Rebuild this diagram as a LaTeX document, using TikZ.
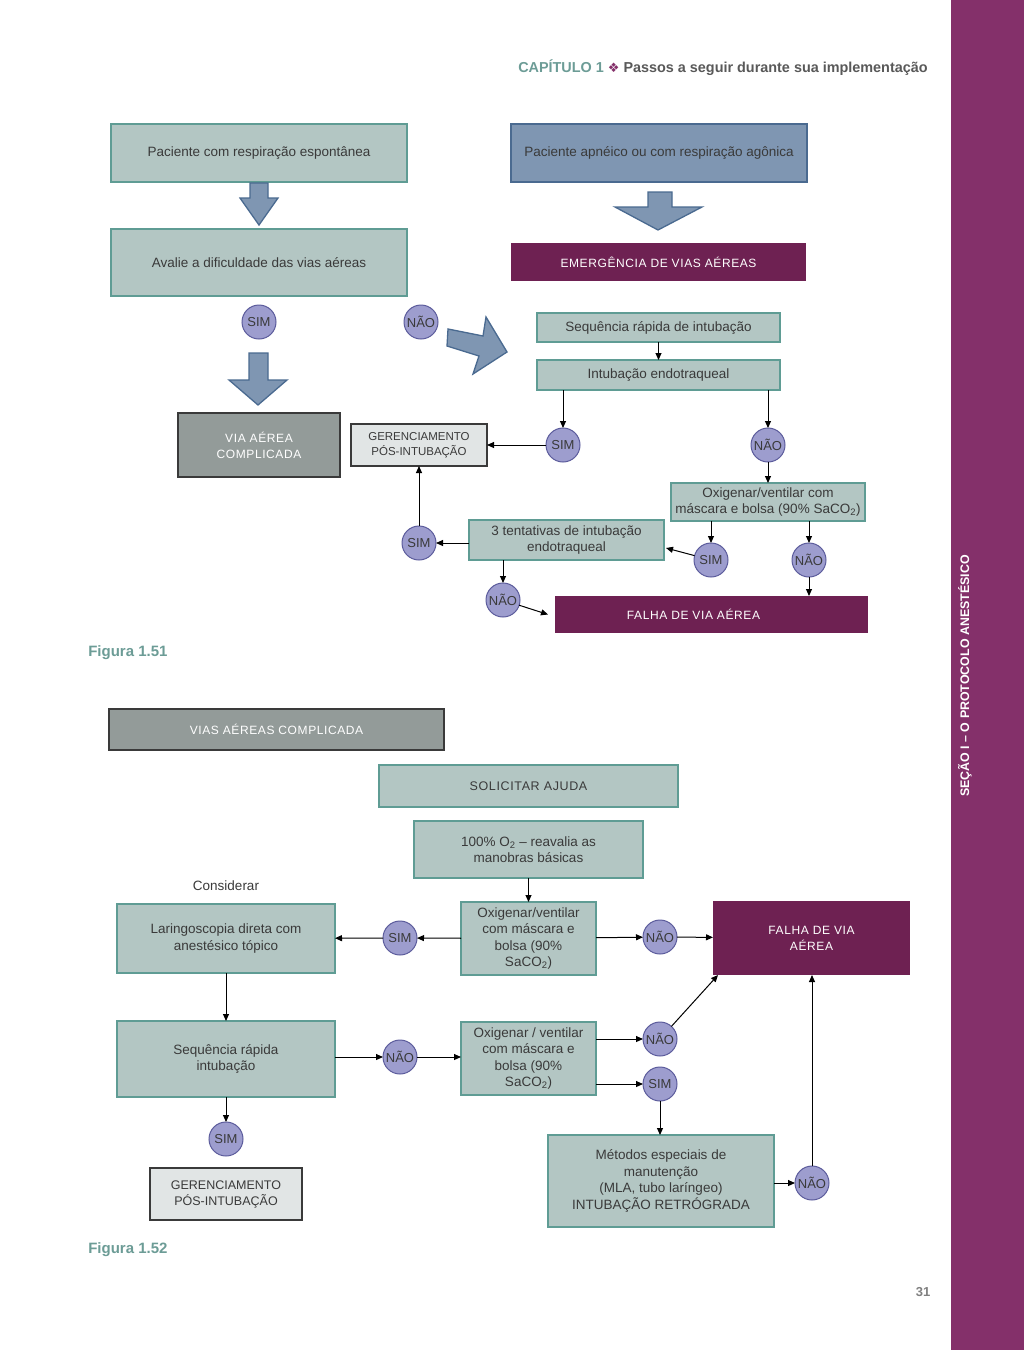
\documentclass[tikz,border=0pt]{standalone}
\usepackage{fontspec}
\setmainfont{Liberation Sans}
\newfontfamily\symfont{DejaVu Sans}
\newfontfamily\capsfont[LetterSpace=5]{Liberation Sans}
\usetikzlibrary{arrows.meta,positioning}

\definecolor{tealfill}{HTML}{B3C6C3}
\definecolor{tealline}{HTML}{5F9C94}
\definecolor{bluefill}{HTML}{7F96B2}
\definecolor{blueline}{HTML}{4A6A90}
\definecolor{plum}{HTML}{6E2152}
\definecolor{lilac}{HTML}{9D9DCE}
\definecolor{lilacline}{HTML}{5C5C9C}
\definecolor{slate}{HTML}{939B99}
\definecolor{pale}{HTML}{E1E5E5}
\definecolor{sidebar}{HTML}{84306A}
\definecolor{capteal}{HTML}{6C9C96}
\definecolor{inkgray}{HTML}{3A3A3A}

\begin{document}
\begin{tikzpicture}[x=1pt,y=-1pt,>={Triangle[length=7pt,width=6pt]},semithick]
	\tikzstyle{every node}=[font=\fontsize{13.5}{16.5}\selectfont,text=inkgray,outer sep=0pt,align=center]
	\tikzstyle{tbox}=[draw=tealline,fill=tealfill,line width=1.3pt,inner sep=2pt]
	\tikzstyle{bbox}=[draw=blueline,fill=bluefill,line width=1.3pt,inner sep=2pt]
	\tikzstyle{pbox}=[fill=plum,text=white,font=\capsfont\fontsize{12}{16}\selectfont]
	\tikzstyle{gbox}=[draw=inkgray,fill=slate,line width=1.3pt,text=white,font=\capsfont\fontsize{12}{16}\selectfont]
	\tikzstyle{lbox}=[draw=inkgray,fill=pale,line width=1.5pt,font=\fontsize{11.5}{14.5}\selectfont]
	\tikzstyle{answer}=[circle,draw=lilacline,fill=lilac,line width=1pt,minimum size=34pt,inner sep=0pt,font=\fontsize{13}{15}\selectfont]
	\tikzstyle{blockarrow}=[draw=blueline,fill=bluefill,line width=1.3pt,line join=miter]
	\tikzstyle{link}=[->,line width=1pt,draw=black]

	\path[use as bounding box,fill=white] (0,0) rectangle (1024,1350);
	\fill[sidebar] (951,0) rectangle (1024,1350);
	\node[rotate=90,text=white,font=\bfseries\fontsize{12.4}{15}\selectfont] (secao) at (965,676) {SEÇÃO I – O PROTOCOLO ANESTÉSICO};
	\node[anchor=east,font=\bfseries\fontsize{14.4}{17}\selectfont,text=gray!70!black] (cap) at (931,68)
		{\textcolor{capteal}{CAPÍTULO 1} \textcolor{sidebar}{\symfont\fontsize{13}{15}\selectfont ❖} Passos a seguir durante sua implementação};
	\node[font=\bfseries\fontsize{13}{16}\selectfont,text=gray] (pagina) at (923,1292) {31};

	% Figura 1.51
	\node[tbox,minimum width=296pt,minimum height=58pt] (resp) at (259,153) {Paciente com respiração espontânea};
	\node[tbox,minimum width=296pt,minimum height=67pt] (avalie) at (259,262.5) {Avalie a dificuldade das vias aéreas};
	\node[bbox,minimum width=296pt,minimum height=58pt] (apneico) at (659,153) {Paciente apnéico ou com respiração agônica};
	\node[pbox,minimum width=295pt,minimum height=38pt] (emerg) at (658.5,262) {EMERGÊNCIA DE VIAS AÉREAS};
	\node[answer] (sim1) at (259,322) {SIM};
	\node[answer] (nao1) at (421,322) {NÃO};
	\node[tbox,minimum width=243pt,minimum height=29pt] (srapida) at (658.5,327.5) {Sequência rápida de intubação};
	\node[tbox,minimum width=243pt,minimum height=30pt] (intub) at (658.5,375) {Intubação endotraqueal};
	\node[answer] (sim2) at (563,445) {SIM};
	\node[answer] (nao2) at (768,445) {NÃO};
	\node[lbox,minimum width=136pt,minimum height=42pt] (gerA) at (419,445) {GERENCIAMENTO\\PÓS-INTUBAÇÃO};
	\node[gbox,minimum width=162pt,minimum height=64pt] (via) at (259,445) {VIA AÉREA\\COMPLICADA};
	\node[tbox,minimum width=194pt,minimum height=38pt] (oxiA) at (768,502) {Oxigenar/ventilar com\\máscara e bolsa (90\% SaCO\textsubscript{2})};
	\node[answer] (sim3) at (711,560) {SIM};
	\node[answer] (nao3) at (809,560) {NÃO};
	\node[tbox,minimum width=195pt,minimum height=40pt] (tent) at (566.5,540) {3 tentativas de intubação\\endotraqueal};
	\node[answer] (sim4) at (419,543) {SIM};
	\node[answer] (nao4) at (503,600) {NÃO};
	\node[pbox,minimum width=313pt,minimum height=37pt] (falhaA) at (711.5,614.5) {FALHA DE VIA AÉREA\hspace*{36pt}};
	\node[anchor=west,font=\bfseries\fontsize{15}{18}\selectfont,text=capteal] (fig51) at (85,653) {Figura 1.51};

	\filldraw[blockarrow] (250,183) -- (268,183) -- (268,198) -- (278,198) -- (259,225) -- (240,198) -- (250,198) -- cycle;
	\filldraw[blockarrow] (648,192) -- (672,192) -- (672,207) -- (702,207) -- (658,230) -- (615,207) -- (648,207) -- cycle;
	\filldraw[blockarrow] (249,353) -- (268,353) -- (268,380) -- (287,380) -- (258,405) -- (229,380) -- (249,380) -- cycle;
	\filldraw[blockarrow] (448,329) -- (483,336) -- (486,317) -- (507,352) -- (473,374) -- (479,356) -- (447,346) -- cycle;

	\draw[link] (srapida) -- (intub);
	\draw[link] (intub.south -| sim2) -- (sim2);
	\draw[link] (intub.south -| nao2) -- (nao2);
	\draw[link] (sim2) -- (gerA);
	\draw[link] (nao2) -- (oxiA);
	\draw[link] (oxiA.south -| sim3) -- (sim3);
	\draw[link] (oxiA.south -| nao3) -- (nao3);
	\draw[link] (sim3) -- ([yshift=-8pt,xshift=2pt]tent.east);
	\draw[link] (tent.west |- sim4) -- (sim4);
	\draw[link] (sim4) -- (gerA);
	\draw[link] (tent.south -| nao4) -- (nao4);
	\draw[link] (nao4) -- ([xshift=-7pt]falhaA.west);
	\draw[link] (nao3) -- (falhaA.north -| nao3);

	% Figura 1.52
	\node[gbox,minimum width=335pt,minimum height=41pt] (vias) at (276.5,729.5) {VIAS AÉREAS COMPLICADA};
	\node[tbox,minimum width=299pt,minimum height=42pt,font=\capsfont\fontsize{12.5}{15}\selectfont] (ajuda) at (528.5,786) {SOLICITAR AJUDA};
	\node[tbox,minimum width=229pt,minimum height=57pt] (oxigenio) at (528.5,849.5) {100\% O\textsubscript{2} – reavalia as\\manobras básicas};
	\node (considerar) at (226,886) {Considerar};
	\node[tbox,minimum width=218pt,minimum height=69pt] (laringo) at (226,938.5) {Laringoscopia direta com\\anestésico tópico};
	\node[tbox,minimum width=135pt,minimum height=73pt] (oxiB) at (528.5,938.5) {Oxigenar/ventilar\\com máscara e\\bolsa (90\%\\SaCO\textsubscript{2})};
	\node[answer] (sim5) at (400,938) {SIM};
	\node[answer] (nao5) at (660,937) {NÃO};
	\node[pbox,minimum width=197pt,minimum height=74pt] (falhaB) at (811.5,938) {FALHA DE VIA\\AÉREA};
	\node[tbox,minimum width=218pt,minimum height=76pt] (srapidaB) at (226,1059) {Sequência rápida\\intubação};
	\node[answer] (nao6) at (400,1057) {NÃO};
	\node[tbox,minimum width=135pt,minimum height=73pt] (oxiC) at (528.5,1058.5) {Oxigenar / ventilar\\com máscara e\\bolsa (90\%\\SaCO\textsubscript{2})};
	\node[answer] (nao7) at (660,1039) {NÃO};
	\node[answer] (sim6) at (660,1084) {SIM};
	\node[tbox,minimum width=226pt,minimum height=92pt] (metodos) at (661,1181) {Métodos especiais de\\manutenção\\(MLA, tubo laríngeo)\\INTUBAÇÃO RETRÓGRADA};
	\node[answer] (nao8) at (812,1183) {NÃO};
	\node[answer] (sim7) at (226,1139) {SIM};
	\node[lbox,minimum width=152pt,minimum height=52pt,font=\fontsize{12.5}{16}\selectfont] (gerB) at (226,1194) {GERENCIAMENTO\\PÓS-INTUBAÇÃO};
	\node[anchor=west,font=\bfseries\fontsize{15}{18}\selectfont,text=capteal] (fig52) at (85,1250) {Figura 1.52};

	\draw[link] (oxigenio) -- (oxiB);
	\draw[link] (oxiB) -- (sim5);
	\draw[link] (sim5) -- (laringo);
	\draw[link] (oxiB) -- (nao5);
	\draw[link] (nao5) -- (falhaB);
	\draw[link] (laringo) -- (srapidaB);
	\draw[link] (srapidaB.east |- nao6) -- (nao6);
	\draw[link] (nao6) -- (oxiC.west |- nao6);
	\draw[link] (oxiC.east |- nao7) -- (nao7);
	\draw[link] (oxiC.east |- sim6) -- (sim6);
	\draw[link] (nao7) -- ([xshift=5pt]falhaB.south west);
	\draw[link] (sim6) -- (sim6 |- metodos.north);
	\draw[link] (metodos.east |- nao8) -- (nao8);
	\draw[link] (nao8) -- (falhaB.south -| nao8);
	\draw[link] (srapidaB) -- (sim7);
\end{tikzpicture}
\end{document}
